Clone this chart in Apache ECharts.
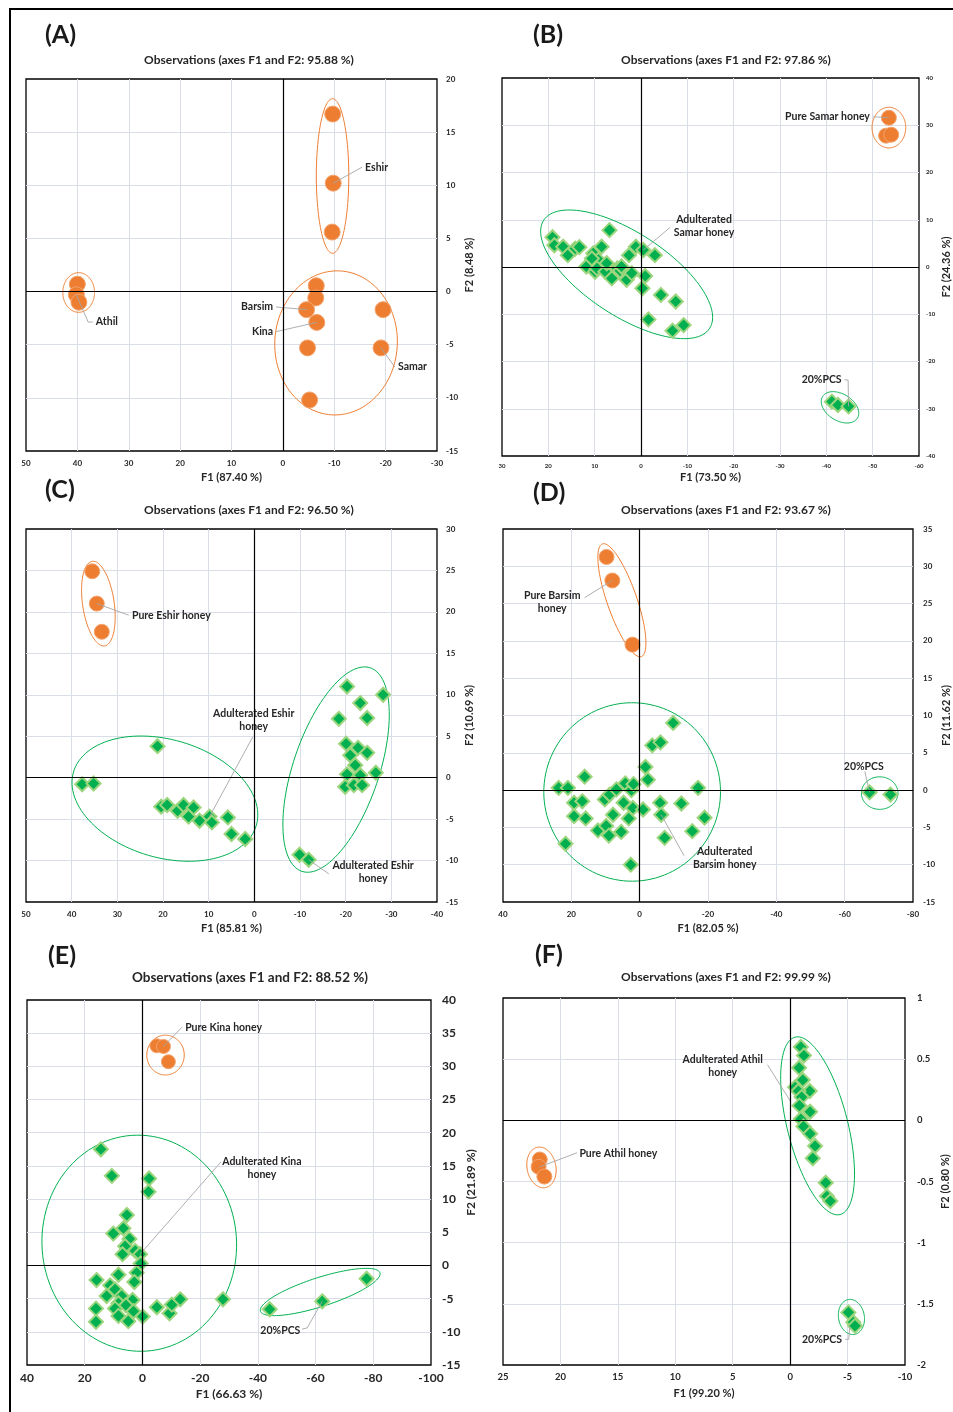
<!DOCTYPE html>
<html><head><meta charset="utf-8">
<script src="https://cdn.jsdelivr.net/npm/echarts@6/dist/echarts.min.js"></script>
<style>
html,body{margin:0;padding:0;background:#fff;}
#frame{position:absolute;left:9px;top:8px;width:944px;height:1404px;border-top:2px solid #000;border-left:2px solid #000;box-sizing:border-box;}
#chart{position:absolute;left:0;top:0;width:953px;height:1412px;}
</style></head>
<body><div id="frame"></div><div id="chart"></div>
<script>
// ---------------- DATA ----------------
// Panel A
const aTitle = 'Observations (axes F1 and F2: 95.88 %)';
const aXName = 'F1 (87.40 %)', aYName = 'F2 (8.48 %)';
const aXRange = [-30, 50, 10], aYRange = [-15, 20, 5];
const aAthil = [[40.0,0.7],[40.2,-0.3],[39.7,-1.0]];
const aEshir = [[-9.7,16.7],[-9.8,10.2],[-9.6,5.6]];
const aOthers = [[-6.5,0.55],[-6.4,-0.6],[-4.6,-1.7],[-6.6,-2.9],[-4.8,-5.3],[-5.2,-10.2],[-19.5,-1.7],[-19.1,-5.3]];
const aPureEll = [[39.75,1.78,39.75,-1.95,0.8],[-9.67,18.15,-9.67,3.6,0.21],[-11.2,1.94,-9.5,-11.6,0.85]];
const aLabels = [
  {t:'Eshir', pts:[[-9.8,10.2],[-15.4,11.7]], at:[-16.0,11.7], al:'left'},
  {t:'Athil', pts:[[40.2,-0.3],[37.9,-2.87],[37.0,-2.87]], at:[36.4,-2.87], al:'left'},
  {t:'Barsim', pts:[[-4.6,-1.7],[1.34,-1.45]], at:[1.9,-1.45], al:'right'},
  {t:'Kina', pts:[[-6.6,-2.9],[1.34,-3.77]], at:[1.9,-3.77], al:'right'},
  {t:'Samar', pts:[[-19.1,-5.3],[-21.8,-7.1]], at:[-22.4,-7.1], al:'left'}
];
// Panel B
const bTitle = 'Observations (axes F1 and F2: 97.86 %)';
const bXName = 'F1 (73.50 %)', bYName = 'F2 (24.36 %)';
const bXRange = [-60, 30, 10], bYRange = [-40, 40, 10];
const bPure = [[-53.5,31.6],[-52.9,27.8],[-54.0,28.0]];
const bAdult = [[19.1,6.3],[18.7,4.6],[16.8,4.3],[15.8,2.5],[14.2,3.9],[13.3,4.2],[6.8,7.8],[8.5,4.3],[10.3,2.9],[11.8,0.1],[9.9,-1.0],[9.2,1.5],[10.6,1.8],[9.5,-0.3],[7.7,-1.0],[7.4,0.8],[6.3,-2.4],[5.1,-0.3],[4.5,-0.8],[4.2,0.1],[3.1,-2.7],[2.6,2.5],[2.0,-1.3],[1.1,4.3],[-0.5,3.6],[-0.9,-1.9],[-0.3,-4.5],[-3.0,2.5],[-4.3,-5.9],[-7.5,-7.3],[-1.6,-11.1],[-6.8,-13.5],[-9.2,-12.3]];
const bPcs = [[-41.2,-28.5],[-42.5,-29.2],[-44.8,-29.5]];
const bPureEll = [[-53.5,33.8,-53.5,25.2,0.83]];
const bGreenEll = [[21.0,9.9,-14.8,-13.0,0.42],[-39.2,-27.4,-46.7,-32.0,0.65]];
const bLabels = [
  {t:'Pure Samar honey', pts:[[-53.5,31.6],[-50.1,31.8]], at:[-49.4,31.8], al:'right'},
  {t:'Adulterated\nSamar honey', pts:[[-0.5,3.6],[-6.3,8.4]], at:[-13.6,8.6], al:'center'},
  {t:'20%PCS', pts:[[-44.8,-29.5],[-44.7,-23.9],[-43.9,-23.9]], at:[-43.3,-23.9], al:'right'}
];
// Panel C
const cTitle = 'Observations (axes F1 and F2: 96.50 %)';
const cXName = 'F1 (85.81 %)', cYName = 'F2 (10.69 %)';
const cXRange = [-40, 50, 10], cYRange = [-15, 30, 5];
const cPure = [[35.5,24.9],[34.5,21.0],[33.4,17.6]];
const cAdultLeft = [[37.7,-0.8],[35.2,-0.7],[21.2,3.8],[20.4,-3.5],[19.1,-3.3],[16.8,-4.0],[15.5,-3.3],[14.4,-4.7],[13.3,-3.6],[12.0,-5.2],[9.8,-4.7],[9.3,-5.4],[5.8,-4.8],[5.0,-6.8],[2.0,-7.4]];
const cAdultRight = [[-20.3,11.0],[-23.2,9.0],[-28.2,10.0],[-18.5,7.1],[-24.7,7.2],[-20.1,4.1],[-22.7,3.6],[-24.7,3.0],[-21.0,2.7],[-22.1,1.5],[-20.3,0.4],[-23.2,0.3],[-26.6,0.6],[-19.9,-1.1],[-21.8,-0.9],[-23.6,-0.9],[-9.9,-9.3],[-11.9,-9.9]];
const cPureEll = [[35.5,26.1,32.8,15.9,0.37]];
const cGreenEll = [[39.6,0.68,-0.44,-5.74,0.62],[-25.4,13.25,-10.4,-11.3,0.4]];
const cLabels = [
  {t:'Pure Eshir honey', pts:[[34.5,21.0],[27.5,19.6]], at:[26.8,19.6], al:'left'},
  {t:'Adulterated Eshir\nhoney', pts:[[9.8,-4.7],[0.36,4.9]], at:[0.15,6.9], al:'center'},
  {t:'Adulterated Eshir\nhoney', pts:[[-11.9,-9.9],[-16.3,-11.6]], at:[-26.0,-11.4], al:'center'}
];
// Panel D
const dTitle = 'Observations (axes F1 and F2: 93.67 %)';
const dXName = 'F1 (82.05 %)', dYName = 'F2 (11.62 %)';
const dXRange = [-80, 40, 20], dYRange = [-15, 35, 5];
const dPure = [[9.7,31.25],[8.0,28.1],[2.1,19.5]];
const dAdult = [[-9.8,9.0],[-3.7,6.0],[-6.1,6.4],[-1.7,3.1],[-2.4,1.4],[-17.1,0.3],[23.7,0.3],[21.0,0.3],[16.1,1.8],[19.2,-1.7],[16.8,-1.5],[19.2,-3.5],[15.8,-3.8],[10.2,-1.25],[8.8,-0.6],[6.8,0.1],[4.2,0.9],[2.4,0.0],[1.8,0.8],[4.7,-1.7],[2.0,-2.4],[-1.0,-2.6],[7.8,-3.3],[3.2,-3.8],[12.2,-5.4],[9.8,-4.8],[9.0,-6.1],[5.4,-5.6],[-6.0,-1.7],[-6.3,-3.3],[-12.2,-1.8],[-19.0,-3.7],[-15.4,-5.5],[-7.3,-6.4],[21.7,-7.2],[2.6,-10.0]];
const dPcs = [[-67.3,-0.3],[-73.4,-0.6]];
const dPureEll = [[10.9,33.0,-0.5,17.9,0.25]];
const dGreenEll = [[1.0,11.7,3.4,-12.2,0.99],[-64.9,-0.4,-75.6,-0.4,0.89]];
const dLabels = [
  {t:'Pure Barsim\nhoney', pts:[[8.0,28.1],[16.1,25.8]], at:[25.6,25.2], al:'center'},
  {t:'Adulterated\nBarsim honey', pts:[[-6.3,-3.3],[-13.0,-8.8]], at:[-24.9,-9.1], al:'center'},
  {t:'20%PCS', pts:[[-67.3,-0.3],[-65.9,2.5]], at:[-65.6,3.1], al:'center'}
];
// Panel E
const eTitle = 'Observations (axes F1 and F2: 88.52 %)';
const eXName = 'F1 (66.63 %)', eYName = 'F2 (21.89 %)';
const eXRange = [-100, 40, 20], eYRange = [-15, 40, 5];
const ePure = [[-5.0,33.1],[-7.3,33.0],[-9.0,30.7]];
const eAdult = [[14.4,17.5],[10.6,13.5],[-2.3,13.1],[-2.1,11.1],[5.4,7.6],[10.1,4.8],[6.6,5.6],[4.5,4.0],[6.0,2.9],[6.9,1.7],[2.5,2.2],[0.8,1.7],[0.6,0.3],[15.9,-2.2],[8.3,-1.4],[2.0,-1.1],[2.8,-2.5],[11.2,-3.0],[9.5,-3.6],[12.4,-4.6],[7.2,-4.6],[3.4,-5.2],[8.3,-5.7],[5.7,-6.0],[16.1,-6.5],[9.5,-6.5],[3.1,-6.9],[8.3,-7.6],[-0.1,-7.7],[4.9,-8.4],[16.1,-8.5],[-5.0,-6.3],[-9.4,-7.2],[-10.2,-5.9],[-13.1,-5.1],[-27.9,-5.1]];
const ePcs = [[-44.1,-6.6],[-62.3,-5.4],[-77.7,-2.0]];
const ePureEll = [[-8.0,34.7,-8.0,28.7,0.94]];
const eGreenEll = [[3.7,19.6,-1.5,-12.9,0.9],[-40.9,-6.9,-82.3,-1.1,0.23]];
const eLabels = [
  {t:'Pure Kina honey', pts:[[-7.3,33.0],[-13.7,35.9]], at:[-14.8,35.9], al:'left'},
  {t:'Adulterated Kina\nhoney', pts:[[0.8,1.7],[-27.2,15.6]], at:[-41.4,14.6], al:'center'},
  {t:'20%PCS', pts:[[-62.3,-5.4],[-57.1,-9.4],[-55.3,-9.6]], at:[-47.8,-9.75], al:'center'}
];
// Panel F
const fTitle = 'Observations (axes F1 and F2: 99.99 %)';
const fXName = 'F1 (99.20 %)', fYName = 'F2 (0.80 %)';
const fXRange = [-10, 25, 5], fYRange = [-2, 1, 0.5];
const fPure = [[21.8,-0.32],[21.9,-0.38],[21.4,-0.46]];
const fAdult = [[-0.93,0.60],[-1.2,0.53],[-0.78,0.43],[-1.1,0.33],[-1.7,0.24],[-0.43,0.27],[-0.72,0.24],[-1.0,0.19],[-0.81,0.12],[-1.74,0.07],[-0.93,0.01],[-1.16,-0.05],[-1.74,-0.11],[-2.17,-0.21],[-1.97,-0.31],[-3.1,-0.51],[-3.2,-0.62],[-3.5,-0.66]];
const fPcs = [[-5.07,-1.57],[-5.5,-1.65],[-5.65,-1.68]];
const fPureEll = [[22.0,-0.22,21.3,-0.55,0.7]];
const fGreenEll = [[-0.43,0.68,-4.35,-0.77,0.33],[-5.07,-1.465,-5.6,-1.75,0.73]];
const fLabels = [
  {t:'Adulterated Athil\nhoney', pts:[[0.0,0.16],[1.97,0.454]], at:[5.87,0.446], al:'center'},
  {t:'Pure Athil honey', pts:[[21.8,-0.38],[18.55,-0.265]], at:[18.35,-0.27], al:'left'},
  {t:'20%PCS', pts:[[-5.2,-1.68],[-5.1,-1.79],[-4.8,-1.79]], at:[-2.77,-1.79], al:'center'}
];

// ---------------- LAYOUT / STYLE ----------------
const FONT = 'Lato, "Open Sans", "DejaVu Sans", sans-serif';
const ORANGE = '#ED7D31', GREEN = '#00B050';
const panels = [
  {letter:'(A)', title:aTitle, xName:aXName, yName:aYName, xr:aXRange, yr:aYRange, pure:[...aAthil,...aEshir,...aOthers], green:[], pureEll:aPureEll, greenEll:[], labels:aLabels,
   grid:[26,79,411,372], lp:[45,35], tp:[249,60], tick:8, tickW:'bold', xm:8, ym:9, xg:21, yg:27, nf:11, nw:'bold', tf:12, tw:'bold', cs:16},
  {letter:'(B)', title:bTitle, xName:bXName, yName:bYName, xr:bXRange, yr:bYRange, pure:bPure, green:[...bAdult,...bPcs], pureEll:bPureEll, greenEll:bGreenEll, labels:bLabels,
   grid:[502,78,417,378], lp:[533,35], tp:[726,60], tick:6, tickW:'bold', xm:7, ym:7, xg:16, yg:22, nf:11, nw:'bold', tf:12, tw:'bold', cs:15},
  {letter:'(C)', title:cTitle, xName:cXName, yName:cYName, xr:cXRange, yr:cYRange, pure:cPure, green:[...cAdultLeft,...cAdultRight], pureEll:cPureEll, greenEll:cGreenEll, labels:cLabels,
   grid:[26,529,411,373], lp:[45,490], tp:[249,510], tick:8, tickW:'bold', xm:8, ym:9, xg:21, yg:27, nf:11, nw:'bold', tf:12, tw:'bold', cs:15},
  {letter:'(D)', title:dTitle, xName:dXName, yName:dYName, xr:dXRange, yr:dYRange, pure:dPure, green:[...dAdult,...dPcs], pureEll:dPureEll, greenEll:dGreenEll, labels:dLabels,
   grid:[503,529,410,373], lp:[533,493], tp:[726,510], tick:8, tickW:'bold', xm:8, ym:10, xg:21, yg:28, nf:11, nw:'bold', tf:12, tw:'bold', cs:15},
  {letter:'(E)', title:eTitle, xName:eXName, yName:eYName, xr:eXRange, yr:eYRange, pure:ePure, green:[...eAdult,...ePcs], pureEll:ePureEll, greenEll:eGreenEll, labels:eLabels,
   grid:[27,1000,404,365], lp:[48,956], tp:[250,978], tick:12, tickW:'bold', xm:7, ym:11, xg:23, yg:34, nf:12, nw:'bold', tf:13.5, tw:'bold', cs:14},
  {letter:'(F)', title:fTitle, xName:fXName, yName:fYName, xr:fXRange, yr:fYRange, pure:fPure, green:[...fAdult,...fPcs], pureEll:fPureEll, greenEll:fGreenEll, labels:fLabels,
   grid:[503,998,402,367], lp:[535,955], tp:[726,977], tick:9.5, tickW:'bold', xm:7, ym:12, xg:23, yg:35, nf:11, nw:'bold', tf:12, tw:'bold', cs:15}
];

function ellipseRender(color){
  return function(params, api){
    const p1 = api.coord([api.value(0), api.value(1)]);
    const p2 = api.coord([api.value(2), api.value(3)]);
    const r = api.value(4);
    const cx = (p1[0]+p2[0])/2, cy = (p1[1]+p2[1])/2;
    const dx = (p2[0]-p1[0])/2, dy = (p2[1]-p1[1])/2;
    const pts = [];
    for (let k = 0; k <= 120; k++) {
      const t = k/120*2*Math.PI, c = Math.cos(t), s = Math.sin(t);
      pts.push([cx + c*dx - s*dy*r, cy + c*dy + s*dx*r]);
    }
    return {type:'polygon', shape:{points:pts}, style:{fill:null, stroke:color, lineWidth:1}};
  };
}
function labelRender(list){
  return function(params, api){
    const L = list[params.dataIndex];
    const pts = L.pts.map(p => api.coord(p));
    const at = api.coord(L.at);
    return {type:'group', children:[
      {type:'polyline', shape:{points:pts}, style:{stroke:'#A6A6A6', lineWidth:0.9, fill:null}},
      {type:'text', x:at[0], y:at[1], style:{text:L.t, font:'bold 10.5px ' + FONT, fill:'#262626', align:L.al, verticalAlign:'middle', lineHeight:13}}
    ]};
  };
}

const option = {animation:false, backgroundColor:'transparent', title:[], grid:[], xAxis:[], yAxis:[], series:[]};
panels.forEach((P, i) => {
  option.title.push({text:P.letter, left:P.lp[0], top:P.lp[1], textVerticalAlign:'middle', textAlign:'left', padding:0,
    textStyle:{fontSize:25, fontWeight:'bold', color:'#1a1a1a', fontFamily:FONT}});
  option.title.push({text:P.title, left:P.tp[0], top:P.tp[1], textVerticalAlign:'middle', textAlign:'center', padding:0,
    textStyle:{fontSize:P.tf, fontWeight:P.tw, color:'#262626', fontFamily:FONT}});
  option.grid.push({left:P.grid[0], top:P.grid[1], width:P.grid[2], height:P.grid[3], show:true, borderColor:'#000', borderWidth:1.3, backgroundColor:'transparent', containLabel:false, outerBoundsMode:'none'});
  const lbl = (m) => ({fontSize:P.tick, fontWeight:P.tickW, color:'#262626', fontFamily:FONT, margin:m, showMinLabel:true, showMaxLabel:true, hideOverlap:false});
  const split = {show:true, showMinLine:false, showMaxLine:false, lineStyle:{color:'#D9DEE6', width:1}};
  option.xAxis.push({gridIndex:i, type:'value', min:P.xr[0], max:P.xr[1], interval:P.xr[2], inverse:true,
    axisLine:{show:false, onZero:false}, axisTick:{show:false}, splitLine:split, axisLabel:lbl(P.xm),
    name:P.xName, nameLocation:'middle', nameGap:P.xg, nameTextStyle:{fontSize:P.nf, fontWeight:P.nw, color:'#262626', fontFamily:FONT}});
  option.yAxis.push({gridIndex:i, type:'value', position:'right', min:P.yr[0], max:P.yr[1], interval:P.yr[2],
    axisLine:{show:false, onZero:false}, axisTick:{show:false}, splitLine:split, axisLabel:lbl(P.ym),
    name:P.yName, nameLocation:'middle', nameGap:P.yg, nameTextStyle:{fontSize:P.nf, fontWeight:P.nw, color:'#262626', fontFamily:FONT}});
  // zero lines
  option.series.push({type:'scatter', xAxisIndex:i, yAxisIndex:i, data:[[0,0]], symbolSize:0, silent:true, z:1,
    markLine:{silent:true, symbol:'none', label:{show:false}, lineStyle:{color:'#000', width:1.2, type:'solid'}, data:[{xAxis:0},{yAxis:0}]}});
  option.series.push({type:'custom', xAxisIndex:i, yAxisIndex:i, silent:true, z:2, data:P.pureEll, encode:{x:[0,2], y:[1,3]}, renderItem:ellipseRender(ORANGE)});
  option.series.push({type:'custom', xAxisIndex:i, yAxisIndex:i, silent:true, z:2, data:P.greenEll, encode:{x:[0,2], y:[1,3]}, renderItem:ellipseRender(GREEN)});
  option.series.push({type:'scatter', xAxisIndex:i, yAxisIndex:i, data:P.pure, symbol:'circle', symbolSize:P.cs, z:3,
    itemStyle:{color:ORANGE, borderColor:'#F3A46E', borderWidth:1, opacity:1}});
  option.series.push({type:'scatter', xAxisIndex:i, yAxisIndex:i, data:P.green, symbol:'diamond', symbolSize:14, z:3,
    itemStyle:{color:GREEN, borderColor:'#9DD57E', borderWidth:2, opacity:1}});
  option.series.push({type:'custom', xAxisIndex:i, yAxisIndex:i, silent:true, z:4, data:P.labels.map(L => L.pts[0]), encode:{x:0, y:1}, renderItem:labelRender(P.labels)});
});

const chart = echarts.init(document.getElementById('chart'), null, {renderer:'canvas'});
chart.setOption(option);
</script></body></html>
